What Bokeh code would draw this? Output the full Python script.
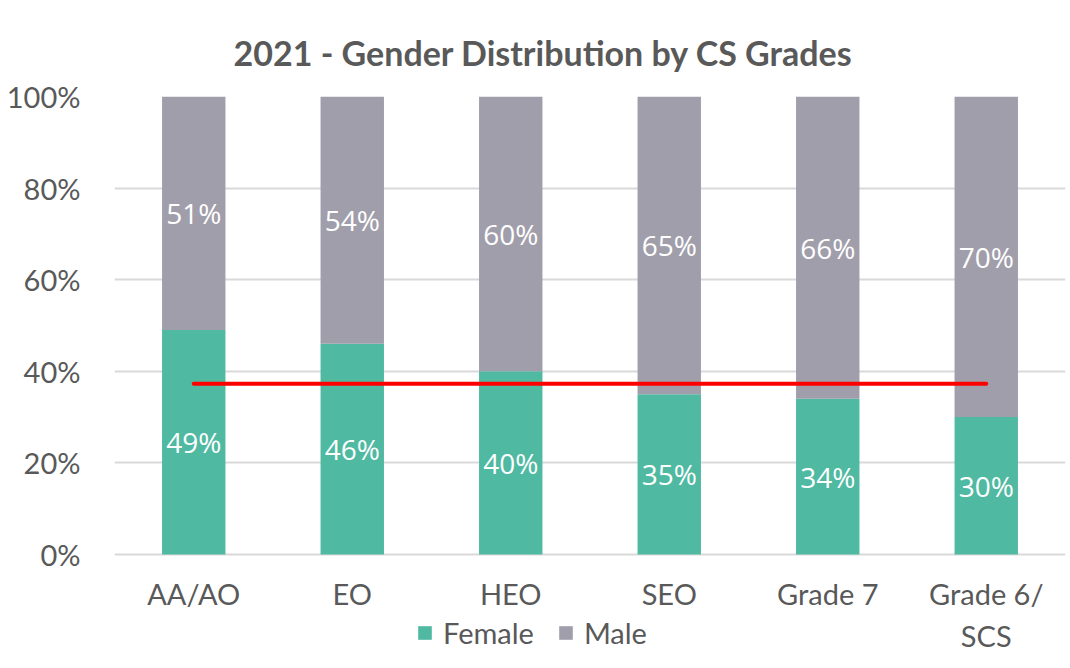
from bokeh.plotting import figure
from bokeh.models import (ColumnDataSource, FactorRange, Range1d, NumeralTickFormatter,
                          FixedTicker, LabelSet, Legend, LegendItem)
from bokeh.core.properties import value
from bokeh.embed import file_html
from bokeh.resources import INLINE

# ---- data ----
grades = ["AA/AO", "EO", "HEO", "SEO", "Grade 7", "Grade 6/\nSCS"]
female = [0.49, 0.46, 0.40, 0.35, 0.34, 0.30]
male = [0.51, 0.54, 0.60, 0.65, 0.66, 0.70]
female_labels = ["49%", "46%", "40%", "35%", "34%", "30%"]
male_labels = ["51%", "54%", "60%", "65%", "66%", "70%"]
average_female = 0.373
y_ticks = [0, 0.2, 0.4, 0.6, 0.8, 1.0]

FEMALE_C = "#4FB9A2"
MALE_C = "#A09EAA"
TEXT_C = "#595959"
AXIS_FONT = "Lato"

W, H = 1066, 662
FRAME_L, FRAME_T, FRAME_R = 114, 96, 1065
ZERO_PX = 554
px_per_unit = (ZERO_PX - FRAME_T) / 1.0
y_bottom = -(H - ZERO_PX) / px_per_unit   # extend frame below 0 to host legend

src = ColumnDataSource(dict(grade=grades, Female=female, Male=male))

p = figure(x_range=FactorRange(*grades, range_padding=0), y_range=Range1d(y_bottom, 1),
           width=W, height=H, output_backend="svg", toolbar_location=None,
           min_border_left=FRAME_L, min_border_right=W - FRAME_R,
           min_border_top=FRAME_T, min_border_bottom=0)

p.title.text = "2021 - Gender Distribution by CS Grades"
p.title.align = "left"
p.title.text_font = AXIS_FONT
p.title.text_font_size = "34px"
p.title.text_font_style = "bold"
p.title.text_color = TEXT_C
p.title.standoff = 47
p.title.offset = 119

r = p.vbar_stack(["Female", "Male"], x="grade", width=0.40, source=src,
                 color=[FEMALE_C, MALE_C], line_color=None)

# average line
p.line(x=[grades[0], grades[-1]], y=[average_female, average_female],
       line_color="#FF0000", line_width=4, line_cap="round")

# labels
fy = [f / 2 for f in female]
my = [f + m / 2 for f, m in zip(female, male)]
lab_src = ColumnDataSource(dict(x=grades + grades, y=fy + my, t=female_labels + male_labels))
p.add_layout(LabelSet(x="x", y="y", text="t", source=lab_src, text_align="center",
                      text_baseline="middle", text_color="white",
                      text_font=value("Open Sans"), text_font_size="28px"))

# axes
p.yaxis.ticker = FixedTicker(ticks=y_ticks)
p.yaxis.formatter = NumeralTickFormatter(format="0%")
p.xaxis.fixed_location = 0
for ax in (p.xaxis, p.yaxis):
    ax.axis_line_color = None
    ax.major_tick_line_color = None
    ax.minor_tick_line_color = None
    ax.major_label_text_font = AXIS_FONT
    ax.major_label_text_font_size = "29px"
    ax.major_label_text_color = TEXT_C
p.yaxis.major_label_standoff = 28
p.xaxis.major_label_standoff = 15

p.xgrid.grid_line_color = None
p.ygrid.grid_line_color = "#D9D9D9"
p.ygrid.grid_line_width = 2
p.ygrid.ticker = FixedTicker(ticks=y_ticks)
p.outline_line_color = None

legend = Legend(items=[LegendItem(label="Female", renderers=[r[0]]),
                       LegendItem(label="Male", renderers=[r[1]])],
                orientation="horizontal", location=(302, 12),
                label_text_font=AXIS_FONT, label_text_font_size="29px",
                label_text_color=TEXT_C, glyph_width=17, glyph_height=17,
                spacing=23, label_standoff=10, padding=0, margin=0,
                border_line_color=None, background_fill_alpha=0)
p.add_layout(legend, "center")

open("out.html", "w").write(file_html(p, INLINE))
